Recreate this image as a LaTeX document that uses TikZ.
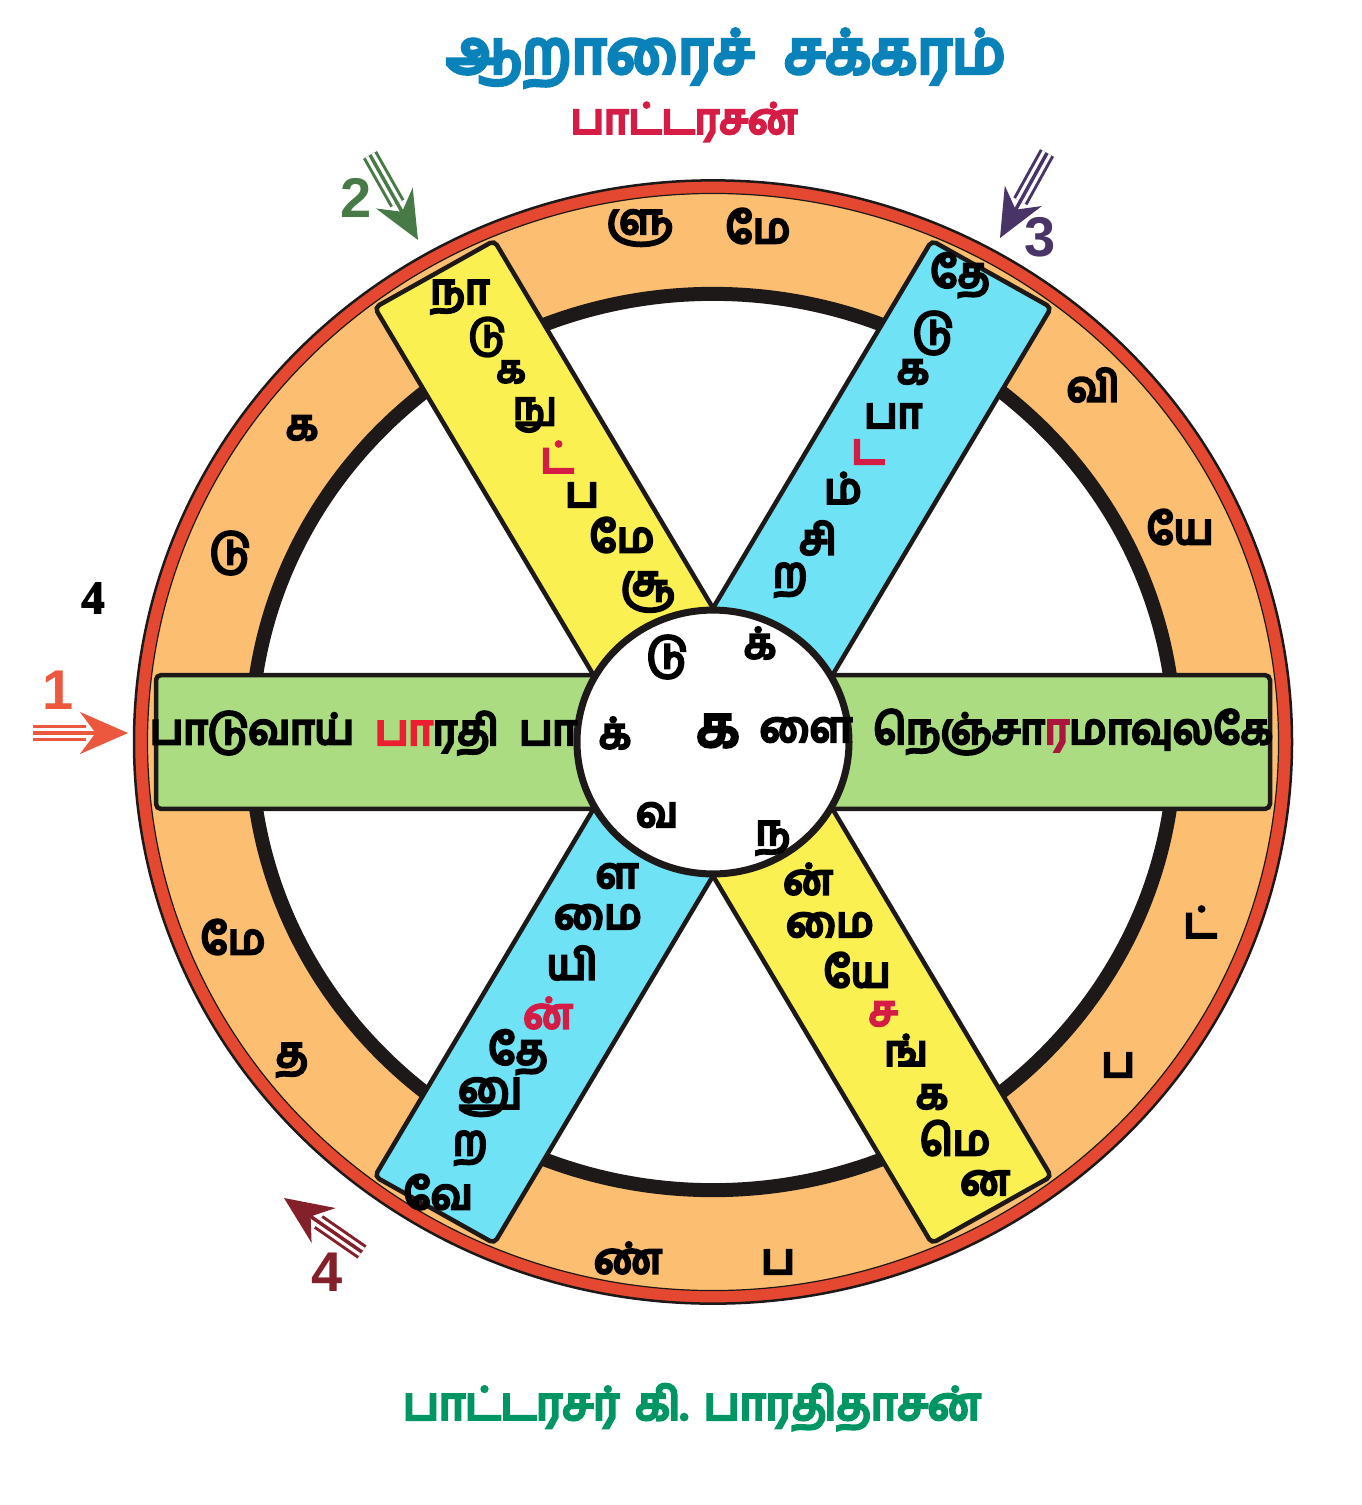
\documentclass[tikz,border=0pt]{standalone}
\usepackage{fontspec}
\usepackage{xcolor}
\usepackage{tikz}
\usetikzlibrary{arrows.meta}
\newfontfamily\tamilfont[Script=Tamil, FakeBold=7]{Hind Madurai}
\newfontfamily\numfont{Liberation Sans}
\newfontfamily\markfont[FakeBold=3]{Liberation Serif}
\definecolor{mytitle}{RGB}{8,130,185}
\definecolor{mycrimson}{RGB}{212,28,68}
\definecolor{mygreentxt}{RGB}{0,150,100}
\definecolor{myorange}{RGB}{252,190,112}
\definecolor{myrim}{RGB}{228,72,48}
\definecolor{myyellow}{RGB}{250,240,82}
\definecolor{mycyan}{RGB}{112,226,246}
\definecolor{mygreen}{RGB}{172,220,130}
\definecolor{myred}{RGB}{235,30,50}
\definecolor{mymaroon}{RGB}{172,22,62}
\definecolor{arrowone}{RGB}{236,88,62}
\definecolor{arrowtwo}{RGB}{72,122,72}
\definecolor{arrowthree}{RGB}{72,52,102}
\definecolor{arrowfour}{RGB}{132,32,42}
\definecolor{mydark}{RGB}{30,25,25}
\tikzset{
  letter/.style={inner sep=0pt, text=black,
    font=\tamilfont\fontsize{42}{46}\selectfont},
  smallletter/.style={letter, font=\tamilfont\fontsize{38}{42}\selectfont},
  redletter/.style={letter, text=mycrimson},
  spoke/.style={draw=mydark, line width=4.5pt, rounded corners=5pt},
  shaft/.style={line width=3pt, double distance=10pt, double=white},
  pointer/.style={line width=3.5pt, -{Stealth[length=48pt 0, width=42pt 0]}},
  digit/.style={inner sep=0pt, font=\numfont\bfseries\fontsize{56}{60}\selectfont}
}
\begin{document}
\begin{tikzpicture}[x=1pt, y=-1pt]
  \useasboundingbox (0,0) rectangle (1362,1505);

  % Headings
  \node[inner sep=0pt, text=mytitle, font=\tamilfont\fontsize{60}{64}\selectfont] (title) at (726,58) {ஆறாரைச்\hspace{30pt}சக்கரம்};
  \node[inner sep=0pt, text=mycrimson, font=\tamilfont\fontsize{42}{46}\selectfont] (poet) at (684,122) {பாட்டரசன்};
  \node[inner sep=0pt, text=mygreentxt, font=\tamilfont\fontsize{45}{49}\selectfont] (author) at (692,1407) {பாட்டரசர்\hspace{16pt}கி.\hspace{16pt}பாரதிதாசன்};

  % Wheel
  \begin{scope}[shift={(713,742)}, yscale=0.97]
    \fill[myorange] (0,0) circle (566);
    \draw[myrim, line width=13pt] (0,0) circle (572);
    \draw[mydark, line width=2.5pt] (0,0) circle (579);
    \draw[mydark, line width=1.2pt] (0,0) circle (565.5);
    \fill[white] (0,0) circle (462);
    \draw[mydark, line width=14pt] (0,0) circle (462);
    % Spokes
    \filldraw[spoke, fill=mygreen] (0,-69) rectangle (557,69);
    \filldraw[spoke, fill=mycyan, rotate=60] (0,-69) rectangle (557,69);
    \filldraw[spoke, fill=myyellow, rotate=120] (0,-69) rectangle (557,69);
    \filldraw[spoke, fill=mygreen, rotate=180] (0,-69) rectangle (557,69);
    \filldraw[spoke, fill=mycyan, rotate=240] (0,-69) rectangle (557,69);
    \filldraw[spoke, fill=myyellow, rotate=300] (0,-69) rectangle (557,69);
    % Hub
    \filldraw[fill=white, draw=mydark, line width=7pt] (0,0) circle (136);
  \end{scope}

  % Green spoke
  \node[letter] (lw1) at (252,733) {பாடுவாய்};
  \node[letter] (lw2) at (437,733) {{\color{myred}பா}ரதி};
  \node[letter] (lw3) at (548,733) {பா};
  \node[letter] (right) at (1073,732) {நெஞ்சா{\color{mymaroon}ர}மாவுலகே};

  % Hub letters
  \node[letter] (h1) at (667,657) {டு};
  \node[letter] (h2) at (760,643) {க்};
  \node[letter] (h3) at (615,733) {க்};
  \node[letter, font=\tamilfont\fontsize{56}{60}\selectfont] (h4) at (718,731) {க};
  \node[letter] (h5) at (806,730) {ளை};
  \node[letter] (h6) at (657,815) {வ};
  \node[letter] (h7) at (773,838) {ந};

  % Upper yellow spoke
  \node[letter] (ya1) at (460,297) {நா};
  \node[smallletter] (ya2) at (487,337) {டு};
  \node[smallletter] (ya3) at (511,372) {க};
  \node[smallletter] (ya4) at (535,415) {நு};
  \node[redletter] (ya5) at (557,457) {ட்};
  \node[letter] (ya6) at (582,495) {ப};
  \node[letter] (ya7) at (622,535) {மே};
  \node[letter] (ya8) at (648,592) {சூ};

  % Upper blue spoke
  \node[letter] (ba1) at (960,275) {தே};
  \node[letter] (ba2) at (933,333) {டு};
  \node[letter] (ba3) at (913,372) {க};
  \node[letter] (ba4) at (893,416) {பா};
  \node[redletter] (ba5) at (868,452) {ட};
  \node[letter] (ba6) at (843,488) {ம்};
  \node[letter] (ba7) at (818,538) {சி};
  \node[letter] (ba8) at (790,580) {ற};

  % Lower blue spoke
  \node[letter] (bb1) at (617,876) {ள};
  \node[letter] (bb2) at (598,917) {மை};
  \node[letter] (bb3) at (572,963) {யி};
  \node[redletter] (bb4) at (548,1013) {ன்};
  \node[letter] (bb5) at (518,1052) {தே};
  \node[letter] (bb6) at (490,1097) {னு};
  \node[letter] (bb7) at (470,1148) {ற};
  \node[letter] (bb8) at (438,1192) {வே};

  % Lower yellow spoke
  \node[letter] (yb1) at (808,879) {ன்};
  \node[letter] (yb2) at (830,925) {மை};
  \node[letter] (yb3) at (857,970) {யே};
  \node[redletter] (yb4) at (883,1014) {ச};
  \node[letter] (yb5) at (906,1050) {ங்};
  \node[letter] (yb6) at (932,1097) {க};
  \node[letter] (yb7) at (955,1138) {மெ};
  \node[letter] (yb8) at (985,1183) {ன};

  % Rim letters
  \node[letter] (r1) at (640,228) {ளு};
  \node[letter] (r2) at (758,226) {மே};
  \node[letter] (r3) at (1093,385) {வி};
  \node[letter] (r4) at (1180,527) {யே};
  \node[letter] (r5) at (1200,922) {ட்};
  \node[letter] (r6) at (1118,1065) {ப};
  \node[letter] (r7) at (778,1262) {ப};
  \node[letter] (r8) at (628,1258) {ண்};
  \node[letter] (r9) at (292,1060) {த};
  \node[letter] (r10) at (233,937) {மே};
  \node[letter] (r11) at (230,553) {டு};
  \node[letter] (r12) at (302,428) {க};

  \node[inner sep=0pt, font=\markfont\bfseries\fontsize{46}{50}\selectfont] (mark) at (93,598) {4};

  % Arrows
  \coordinate (a1tail) at (33,733);
  \coordinate (a1tip) at (128,733);
  \draw[shaft, arrowone, shorten >=42pt] (a1tail) -- (a1tip);
  \draw[pointer, arrowone] (a1tail) -- (a1tip);
  \node[digit, text=arrowone] (d1) at (58,690) {1};

  \coordinate (a2tail) at (370,155);
  \coordinate (a2tip) at (418,240);
  \draw[shaft, arrowtwo, shorten >=42pt] (a2tail) -- (a2tip);
  \draw[pointer, arrowtwo] (a2tail) -- (a2tip);
  \node[digit, text=arrowtwo] (d2) at (356,198) {2};

  \coordinate (a3tail) at (1047,153);
  \coordinate (a3tip) at (1000,238);
  \draw[shaft, arrowthree, shorten >=42pt] (a3tail) -- (a3tip);
  \draw[pointer, arrowthree] (a3tail) -- (a3tip);
  \node[digit, text=arrowthree] (d3) at (1040,237) {3};

  \coordinate (a4tail) at (362,1252);
  \coordinate (a4tip) at (284,1198);
  \draw[shaft, arrowfour, shorten >=42pt] (a4tail) -- (a4tip);
  \draw[pointer, arrowfour] (a4tail) -- (a4tip);
  \node[digit, text=arrowfour] (d4) at (327,1272) {4};
\end{tikzpicture}
\end{document}
